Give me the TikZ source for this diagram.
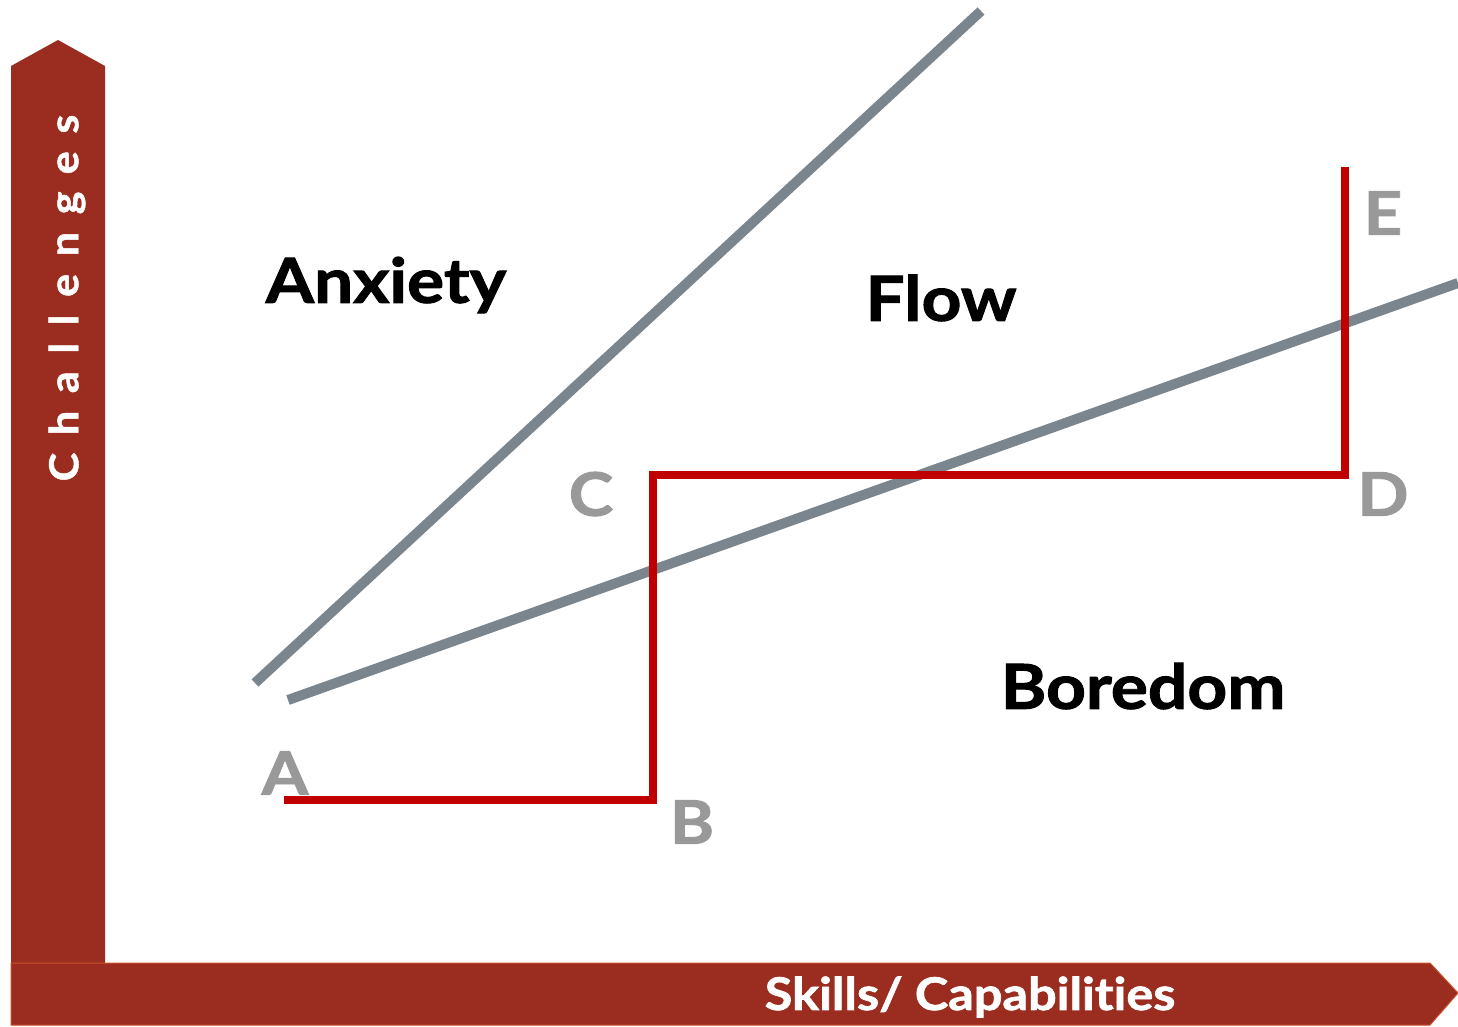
\documentclass[tikz,border=0pt]{standalone}
\usepackage{fontspec}
\setmainfont{Lato}[BoldFeatures={FakeBold=1.6,FakeStretch=1.12},Ligatures=NoCommon]
\newfontfamily\spaced{Lato}[BoldFeatures={FakeBold=1.2,FakeStretch=1.08,LetterSpace=44},LetterSpace=44]
\definecolor{barred}{HTML}{9B2D20}
\definecolor{baredge}{HTML}{C8502A}
\definecolor{zone}{HTML}{7A858D}
\definecolor{pathred}{HTML}{C00000}
\definecolor{ptgray}{HTML}{999999}
\begin{document}
\begin{tikzpicture}[x=1pt,y=-1pt,
  zoneline/.style={draw=zone,line width=10pt},
  pathline/.style={draw=pathred,line width=8pt},
  zonelabel/.style={font=\bfseries\fontsize{62}{62}\selectfont,text=black,inner sep=0pt},
  ptlabel/.style={font=\bfseries\fontsize{60}{60}\selectfont,text=ptgray,inner sep=0pt},
  axislabel/.style={font=\bfseries\fontsize{45}{45}\selectfont,text=white,inner sep=0pt}]
\useasboundingbox (0,0) rectangle (1458,1026);
% vertical axis arrow
\fill[barred] (11,963) -- (11,66) -- (58,40) -- (105,66) -- (105,963) -- cycle;
% horizontal axis arrow
\fill[barred,draw=baredge,line width=1pt] (11,963) -- (1430,963) -- (1458,993) -- (1430,1025) -- (11,1025) -- cycle;
\node[axislabel] (xlab) at (970,997) {Skills/ Capabilities};
\node[axislabel,rotate=90,font=\spaced\bfseries\fontsize{40}{40}\selectfont] (ylab) at (67,298) {Challenges};
% zone boundaries
\coordinate (u1) at (255,683);
\coordinate (u2) at (981,11);
\coordinate (l1) at (288,700);
\coordinate (l2) at (1458,283);
\draw[zoneline] (u1) -- (u2);
\draw[zoneline] (l1) -- (l2);
% path
\coordinate (pA) at (284,800);
\coordinate (pB) at (653,800);
\coordinate (pC) at (653,475);
\coordinate (pD) at (1345,475);
\coordinate (pE) at (1345,167);
\draw[pathline] (pA) -- (pB) -- (pC) -- (pD) -- (pE);
% labels
\node[zonelabel] (anx) at (386,285) {Anxiety};
\node[zonelabel] (flow) at (941,298) {Flow};
\node[zonelabel] (bor) at (1143,686) {Boredom};
\node[ptlabel] (A) at (285,773) {A};
\node[ptlabel] (B) at (692,822) {B};
\node[ptlabel] (C) at (591,494) {C};
\node[ptlabel] (D) at (1383,494) {D};
\node[ptlabel] (E) at (1383,213) {E};
\end{tikzpicture}
\end{document}
